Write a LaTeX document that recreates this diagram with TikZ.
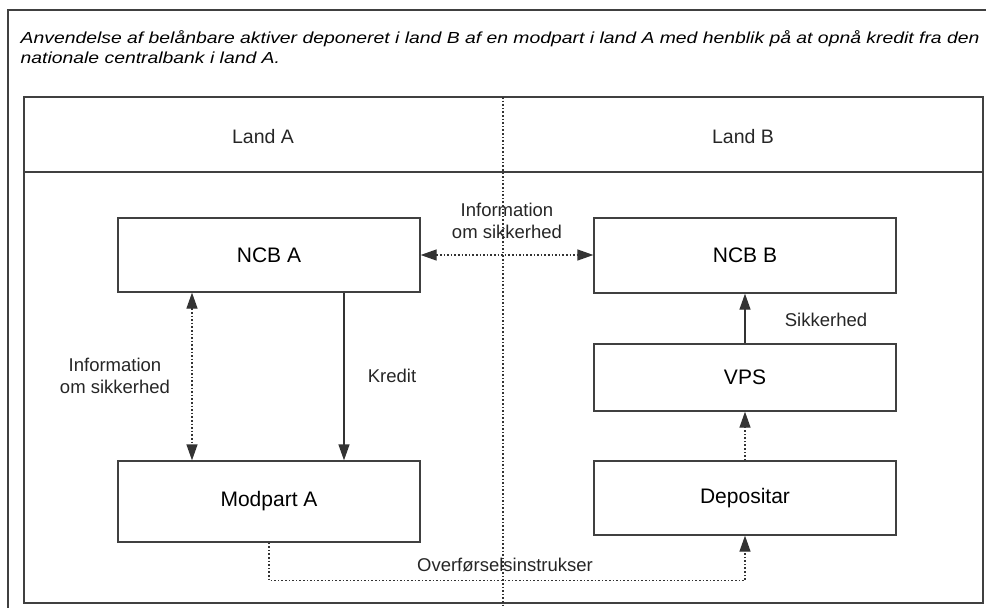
\documentclass[tikz,border=0pt]{standalone}
\usepackage{fontspec}
\setmainfont{Liberation Sans}
\newfontfamily\titlefont{Liberation Sans}[FakeStretch=1.21]
\usetikzlibrary{arrows.meta,positioning}

\begin{document}
\begin{tikzpicture}[x=1pt,y=-1pt,>={Triangle[length=16pt,width=11pt]},
  line width=1.3pt,draw=black!80,
  box/.style={draw=black!75,minimum width=302pt,minimum height=74pt,inner sep=0pt,font=\fontsize{21}{24}\selectfont},
  lbl/.style={align=center,font=\fontsize{18.5}{22}\selectfont,text=black!85},
  ttl/.style={anchor=base west,inner sep=0pt,font=\titlefont\itshape\fontsize{16}{20}\selectfont},
  dotline/.style={draw=black!80,dash pattern=on 1.6pt off 2pt},
  solidline/.style={draw=black!80}]
\useasboundingbox (0,0) rectangle (986,608);
% frames
\draw[black!75] (8,608) -- (8,10) -- (986,10);
\node[ttl] (title1) at (20,43) {Anvendelse af belånbare aktiver deponeret i land B af en modpart i land A med henblik på at opnå kredit fra den};
\node[ttl] (title2) at (20,63) {nationale centralbank i land A.};
\draw[black!75] (24,97) rectangle (983,603);
\draw[black!75] (24,172) -- (983,172);
\draw[dotline] (503,97) -- (503,608);
\node[lbl,font=\fontsize{19.5}{22}\selectfont] (landA) at (263,137) {Land A};
\node[lbl,font=\fontsize{19.5}{22}\selectfont] (landB) at (743,137) {Land B};
% boxes
\node[box] (ncbA) at (269,255) {NCB A};
\node[box,minimum height=81pt] (modA) at (269,501.5) {Modpart A};
\node[box,minimum height=75pt] (ncbB) at (745,255.5) {NCB B};
\node[box,minimum height=67pt] (vps) at (745,377.5) {VPS};
\node[box] (dep) at (745,498) {Depositar};
% connectors
\path (ncbA.east) edge[dotline,<->] (ncbA.east -| ncbB.west)
   ([xshift=-77pt]ncbA.south) edge[dotline,<->] ([xshift=-77pt]modA.north)
   ([xshift=75pt]ncbA.south) edge[solidline,->] ([xshift=75pt]modA.north)
   (vps.north) edge[solidline,->] (ncbB.south)
   (dep.north) edge[dotline,->] (vps.south);
\draw[dotline,->] (modA.south) -- ++(0,38) -| (dep.south);
% labels
\node[lbl] (infoAB) at (507,221) {Information\\om sikkerhed};
\node[lbl] (infoA) at (115,376) {Information\\om sikkerhed};
\node[lbl] (kredit) at (392,376) {Kredit};
\node[lbl] (sikkerhed) at (826,320) {Sikkerhed};
\node[lbl] (overf) at (505,565) {Overførselsinstrukser};
\end{tikzpicture}
\end{document}
